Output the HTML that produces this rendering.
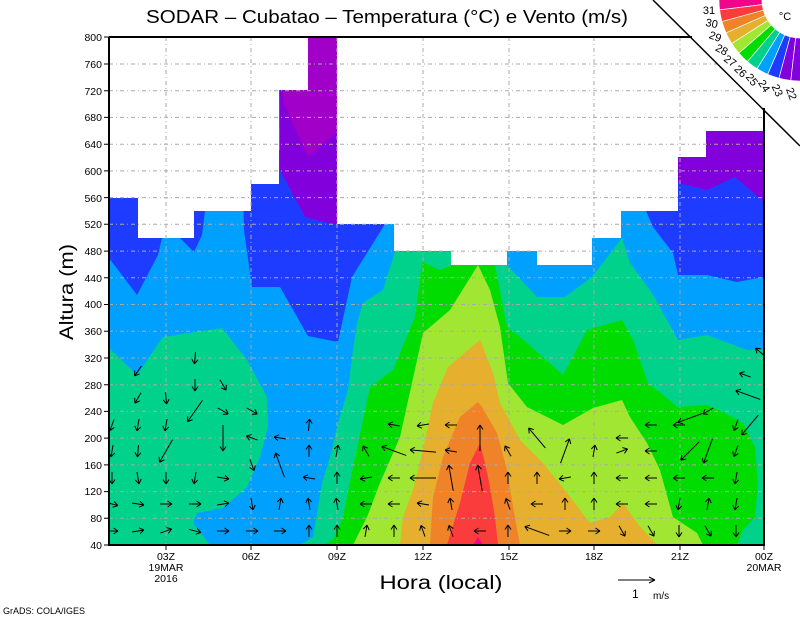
<!DOCTYPE html>
<html><head><meta charset="utf-8"><style>
html,body{margin:0;padding:0;background:#fff;}
svg{display:block;font-family:"Liberation Sans",sans-serif;}
</style></head><body>
<svg width="800" height="618" viewBox="0 0 800 618" xmlns="http://www.w3.org/2000/svg" xmlns:xlink="http://www.w3.org/1999/xlink">
<defs>
<clipPath id="pc"><rect x="109" y="37" width="655" height="508"/></clipPath>
<g id="a"><path d="M-6 0H6M6 0l-4.5-3M6 0l-4.5 3" stroke="#000" stroke-width="1" fill="none"/></g>
<g id="b"><path d="M-13 0H13M13 0l-4.5-3M13 0l-4.5 3" stroke="#000" stroke-width="1" fill="none"/></g>
</defs>
<g clip-path="url(#pc)">
<rect x="109" y="37" width="655" height="508" fill="#00a0ff"/>
<polygon fill="#1e3cff" points="109,150 162,150 162,238 158,255 137,295 109,258"/>
<polygon fill="#1e3cff" points="177,150 205,150 205,211 202,235 194,252 180,238 177,238"/>
<polygon fill="#1e3cff" points="242,150 385,150 385,224 352,277 338,342 308,336 280,287 252,287 244,230"/>
<polygon fill="#1e3cff" points="646,120 764,120 764,277 737,282 707,275 678,275 673,253 653,227 646,211"/>
<polygon fill="#8200dc" points="279,30 337,30 337,225 305,217 280,170"/>
<polygon fill="#a000c8" points="283,30 337,30 337,132 308,157 283,102"/>
<polygon fill="#8200dc" points="678,120 764,120 764,202 735,177 707,190 678,183"/>
<polygon fill="#00d28c" points="109,348 137,375 163,337 222,328 247,360 267,397 268,427 260,457 247,487 223,508 197,513 193,523 210,545 109,545"/>
<polygon fill="#00d28c" points="300,545 313,537 322,483 330,457 338,423 348,390 353,350 357,323 363,303 383,290 395,252 495,252 507,265 537,297 565,297 592,277 622,238 630,263 652,293 678,340 707,335 747,350 764,350 764,545"/>
<polygon fill="#00dc00" points="322,545 333,540 343,517 353,467 363,420 370,387 393,370 415,317 422,262 440,270 452,265 495,265 507,327 520,337 563,375 587,330 622,320 633,340 648,383 678,407 707,405 723,412 743,423 755,447 758,483 755,517 743,530 737,545"/>
<polygon fill="#a0e632" points="353,545 367,517 380,483 400,437 423,333 450,310 478,265 490,290 500,327 508,383 527,407 563,425 593,408 622,400 630,417 647,443 660,470 673,517 697,533 703,545"/>
<polygon fill="#e6af2d" points="400,545 403,517 413,490 423,450 433,403 448,367 480,340 493,373 500,403 520,440 543,463 567,493 590,523 610,517 623,503 637,523 657,545"/>
<polygon fill="#f08228" points="430,545 433,497 443,457 460,417 478,402 482,407 497,433 507,470 513,507 520,545"/>
<polygon fill="#fa3c3c" points="447,545 460,503 470,463 480,443 485,463 490,487 495,517 498,545"/>
<polygon fill="#f0068c" points="473,545 478,537 483,545"/>
<polygon fill="#fff" points="109,37 109,198 138,198 138,238 194,238 194,211 251,211 251,184 279,184 279,90 308,90 308,37 337,37 337,224 394,224 394,251 451,251 451,265 507,265 507,251 537,251 537,265 592,265 592,238 621,238 621,211 678,211 678,157 706,157 706,131 764,131 764,37"/>
<g stroke="#aaa" stroke-width="1" stroke-dasharray="4,3,1,3" fill="none">
<path d="M109 518.3H764M109 491.6H764M109 464.9H764M109 438.1H764M109 411.4H764M109 384.7H764M109 358H764M109 331.2H764M109 304.5H764M109 277.8H764M109 251.1H764M109 224.3H764M109 197.6H764M109 170.9H764M109 144.2H764M109 117.4H764M109 90.7H764M109 64H764"/>
<path d="M166 37V545M251 37V545M337 37V545M423 37V545M509 37V545M594 37V545M680 37V545"/>
</g>
<!-- arrows -->
<use xlink:href="#a" transform="translate(112,531) rotate(0)"/>
<use xlink:href="#a" transform="translate(112,504) rotate(15)"/>
<use xlink:href="#a" transform="translate(112,478) rotate(90)"/>
<use xlink:href="#a" transform="translate(112,451) rotate(100)"/>
<use xlink:href="#a" transform="translate(112,425) rotate(110)"/>
<use xlink:href="#a" transform="translate(138,531) rotate(-10)"/>
<use xlink:href="#a" transform="translate(138,504) rotate(10)"/>
<use xlink:href="#a" transform="translate(138,478) rotate(80)"/>
<use xlink:href="#a" transform="translate(138,451) rotate(95)"/>
<use xlink:href="#a" transform="translate(138,425) rotate(100)"/>
<use xlink:href="#a" transform="translate(138,398) rotate(120)"/>
<use xlink:href="#a" transform="translate(138,371) rotate(125)"/>
<use xlink:href="#a" transform="translate(166,531) rotate(-20)"/>
<use xlink:href="#a" transform="translate(166,504) rotate(0)"/>
<use xlink:href="#a" transform="translate(166,478) rotate(90)"/>
<use xlink:href="#b" transform="translate(166,451) rotate(120)"/>
<use xlink:href="#a" transform="translate(166,425) rotate(100)"/>
<use xlink:href="#a" transform="translate(166,398) rotate(85)"/>
<use xlink:href="#a" transform="translate(195,531) rotate(15)"/>
<use xlink:href="#a" transform="translate(195,504) rotate(0)"/>
<use xlink:href="#a" transform="translate(195,478) rotate(100)"/>
<use xlink:href="#b" transform="translate(195,411) rotate(125)"/>
<use xlink:href="#a" transform="translate(195,385) rotate(90)"/>
<use xlink:href="#a" transform="translate(195,358) rotate(95)"/>
<use xlink:href="#a" transform="translate(223,531) rotate(0)"/>
<use xlink:href="#a" transform="translate(223,504) rotate(-10)"/>
<use xlink:href="#a" transform="translate(223,478) rotate(10)"/>
<use xlink:href="#b" transform="translate(223,438) rotate(90)"/>
<use xlink:href="#a" transform="translate(223,411) rotate(30)"/>
<use xlink:href="#a" transform="translate(223,385) rotate(60)"/>
<use xlink:href="#a" transform="translate(252,531) rotate(0)"/>
<use xlink:href="#a" transform="translate(252,504) rotate(80)"/>
<use xlink:href="#a" transform="translate(252,465) rotate(70)"/>
<use xlink:href="#a" transform="translate(252,438) rotate(200)"/>
<use xlink:href="#a" transform="translate(252,411) rotate(30)"/>
<use xlink:href="#a" transform="translate(280,531) rotate(0)"/>
<use xlink:href="#a" transform="translate(280,504) rotate(-80)"/>
<use xlink:href="#b" transform="translate(280,465) rotate(-110)"/>
<use xlink:href="#a" transform="translate(280,438) rotate(190)"/>
<use xlink:href="#a" transform="translate(309,531) rotate(-90)"/>
<use xlink:href="#a" transform="translate(309,504) rotate(-100)"/>
<use xlink:href="#a" transform="translate(309,478) rotate(190)"/>
<use xlink:href="#a" transform="translate(309,451) rotate(-90)"/>
<use xlink:href="#a" transform="translate(309,425) rotate(-85)"/>
<use xlink:href="#a" transform="translate(337,531) rotate(-90)"/>
<use xlink:href="#a" transform="translate(337,504) rotate(-100)"/>
<use xlink:href="#a" transform="translate(337,478) rotate(-90)"/>
<use xlink:href="#a" transform="translate(337,451) rotate(-80)"/>
<use xlink:href="#a" transform="translate(366,531) rotate(-80)"/>
<use xlink:href="#a" transform="translate(366,504) rotate(180)"/>
<use xlink:href="#a" transform="translate(366,478) rotate(170)"/>
<use xlink:href="#a" transform="translate(366,451) rotate(-120)"/>
<use xlink:href="#a" transform="translate(394,531) rotate(-90)"/>
<use xlink:href="#a" transform="translate(394,504) rotate(180)"/>
<use xlink:href="#a" transform="translate(394,478) rotate(180)"/>
<use xlink:href="#b" transform="translate(394,451) rotate(200)"/>
<use xlink:href="#a" transform="translate(394,425) rotate(190)"/>
<use xlink:href="#a" transform="translate(423,531) rotate(-110)"/>
<use xlink:href="#a" transform="translate(423,504) rotate(190)"/>
<use xlink:href="#b" transform="translate(423,478) rotate(180)"/>
<use xlink:href="#b" transform="translate(423,451) rotate(185)"/>
<use xlink:href="#a" transform="translate(423,425) rotate(170)"/>
<use xlink:href="#a" transform="translate(451,531) rotate(-110)"/>
<use xlink:href="#a" transform="translate(451,504) rotate(-100)"/>
<use xlink:href="#b" transform="translate(451,478) rotate(-100)"/>
<use xlink:href="#a" transform="translate(451,451) rotate(190)"/>
<use xlink:href="#a" transform="translate(451,425) rotate(180)"/>
<use xlink:href="#a" transform="translate(480,531) rotate(180)"/>
<use xlink:href="#b" transform="translate(480,478) rotate(-100)"/>
<use xlink:href="#b" transform="translate(480,438) rotate(-90)"/>
<use xlink:href="#a" transform="translate(508,531) rotate(-90)"/>
<use xlink:href="#a" transform="translate(508,504) rotate(-110)"/>
<use xlink:href="#a" transform="translate(508,478) rotate(-90)"/>
<use xlink:href="#a" transform="translate(508,451) rotate(-120)"/>
<use xlink:href="#b" transform="translate(537,531) rotate(200)"/>
<use xlink:href="#a" transform="translate(537,504) rotate(180)"/>
<use xlink:href="#a" transform="translate(537,478) rotate(-90)"/>
<use xlink:href="#b" transform="translate(537,438) rotate(-130)"/>
<use xlink:href="#a" transform="translate(565,531) rotate(0)"/>
<use xlink:href="#a" transform="translate(565,504) rotate(-90)"/>
<use xlink:href="#a" transform="translate(565,478) rotate(170)"/>
<use xlink:href="#b" transform="translate(565,451) rotate(-70)"/>
<use xlink:href="#a" transform="translate(594,531) rotate(0)"/>
<use xlink:href="#a" transform="translate(594,504) rotate(-90)"/>
<use xlink:href="#a" transform="translate(594,478) rotate(-90)"/>
<use xlink:href="#a" transform="translate(594,451) rotate(-80)"/>
<use xlink:href="#a" transform="translate(622,531) rotate(60)"/>
<use xlink:href="#a" transform="translate(622,504) rotate(180)"/>
<use xlink:href="#a" transform="translate(622,478) rotate(180)"/>
<use xlink:href="#a" transform="translate(622,451) rotate(-20)"/>
<use xlink:href="#a" transform="translate(622,438) rotate(180)"/>
<use xlink:href="#a" transform="translate(651,531) rotate(60)"/>
<use xlink:href="#a" transform="translate(651,504) rotate(180)"/>
<use xlink:href="#a" transform="translate(651,478) rotate(180)"/>
<use xlink:href="#a" transform="translate(651,451) rotate(180)"/>
<use xlink:href="#a" transform="translate(651,425) rotate(180)"/>
<use xlink:href="#a" transform="translate(679,531) rotate(90)"/>
<use xlink:href="#a" transform="translate(679,504) rotate(100)"/>
<use xlink:href="#a" transform="translate(679,478) rotate(180)"/>
<use xlink:href="#b" transform="translate(690,451) rotate(135)"/>
<use xlink:href="#a" transform="translate(679,425) rotate(180)"/>
<use xlink:href="#b" transform="translate(690,418) rotate(160)"/>
<use xlink:href="#a" transform="translate(708,531) rotate(60)"/>
<use xlink:href="#a" transform="translate(708,504) rotate(-80)"/>
<use xlink:href="#a" transform="translate(708,478) rotate(180)"/>
<use xlink:href="#b" transform="translate(708,451) rotate(110)"/>
<use xlink:href="#a" transform="translate(708,411) rotate(150)"/>
<use xlink:href="#a" transform="translate(736,531) rotate(90)"/>
<use xlink:href="#a" transform="translate(736,504) rotate(100)"/>
<use xlink:href="#a" transform="translate(736,478) rotate(100)"/>
<use xlink:href="#a" transform="translate(736,451) rotate(110)"/>
<use xlink:href="#a" transform="translate(736,425) rotate(110)"/>
<use xlink:href="#b" transform="translate(750,425) rotate(130)"/>
<use xlink:href="#b" transform="translate(748,395) rotate(200)"/>
<use xlink:href="#a" transform="translate(745,375) rotate(200)"/>
<use xlink:href="#a" transform="translate(760,352) rotate(220)"/>
</g>
<polygon fill="#fff" points="655,0 800,0 800,145"/>
<line x1="653" y1="0" x2="800" y2="146" stroke="#000" stroke-width="1.5"/>
<g stroke="#000" stroke-width="2" fill="none">
<path d="M109 37V545H764V108"/>
<path d="M109 37H692"/>
</g>
<g stroke="#000" stroke-width="1">
<path d="M104 545H109M104 518.3H109M104 491.6H109M104 464.9H109M104 438.1H109M104 411.4H109M104 384.7H109M104 358H109M104 331.2H109M104 304.5H109M104 277.8H109M104 251.1H109M104 224.3H109M104 197.6H109M104 170.9H109M104 144.2H109M104 117.4H109M104 90.7H109M104 64H109M104 37H109"/>
<path d="M166 545V550M251 545V550M337 545V550M423 545V550M509 545V550M594 545V550M680 545V550M764 545V550"/>
</g>
<g font-size="10.5" text-anchor="end" fill="#000">
<text x="102" y="549">40</text><text x="102" y="522">80</text><text x="102" y="495">120</text><text x="102" y="469">160</text><text x="102" y="442">200</text><text x="102" y="415">240</text><text x="102" y="389">280</text><text x="102" y="362">320</text><text x="102" y="335">360</text><text x="102" y="308">400</text><text x="102" y="282">440</text><text x="102" y="255">480</text><text x="102" y="228">520</text><text x="102" y="202">560</text><text x="102" y="175">600</text><text x="102" y="148">640</text><text x="102" y="121">680</text><text x="102" y="95">720</text><text x="102" y="68">760</text><text x="102" y="41">800</text>
</g>
<g font-size="10.5" text-anchor="middle" fill="#000">
<text x="166" y="560">03Z</text><text x="166" y="571">19MAR</text><text x="166" y="582">2016</text>
<text x="251" y="560">06Z</text><text x="337" y="560">09Z</text><text x="423" y="560">12Z</text><text x="509" y="560">15Z</text><text x="594" y="560">18Z</text><text x="680" y="560">21Z</text>
<text x="764" y="560">00Z</text><text x="764" y="571">20MAR</text>
</g>
<text x="146" y="23" font-size="18" textLength="482" lengthAdjust="spacingAndGlyphs">SODAR – Cubatao – Temperatura (°C) e Vento (m/s)</text>
<text x="441" y="589" font-size="19" text-anchor="middle" textLength="123" lengthAdjust="spacingAndGlyphs">Hora (local)</text>
<text transform="translate(73,292) rotate(-90)" font-size="19" text-anchor="middle" textLength="96" lengthAdjust="spacingAndGlyphs">Altura (m)</text>
<text x="3" y="614" font-size="9">GrADS: COLA/IGES</text>
<g stroke="#000" stroke-width="1"><path d="M618 580H655M655 580L649 577M655 580L649 583"/></g>
<text x="632" y="598" font-size="12">1</text><text x="653" y="599" font-size="10">m/s</text>
<g stroke="#fff" stroke-width="0.7">
<path fill="#f0068c" d="M720.2,-14.1 A81 81 0 0 0 719.6,9.9 L762.3,4.6 A38 38 0 0 1 762.6,-6.6Z"/>
<path fill="#fa3c3c" d="M719.6,9.9 A81 81 0 0 0 721.9,21.6 L763.4,10.2 A38 38 0 0 1 762.3,4.6Z"/>
<path fill="#f08228" d="M721.9,21.6 A81 81 0 0 0 726.0,32.9 L765.3,15.5 A38 38 0 0 1 763.4,10.2Z"/>
<path fill="#e6af2d" d="M726.0,32.9 A81 81 0 0 0 731.7,43.5 L768.0,20.4 A38 38 0 0 1 765.3,15.5Z"/>
<path fill="#a0e632" d="M731.7,43.5 A81 81 0 0 0 738.9,53.1 L771.3,24.9 A38 38 0 0 1 768.0,20.4Z"/>
<path fill="#00dc00" d="M738.9,53.1 A81 81 0 0 0 747.4,61.6 L775.3,28.9 A38 38 0 0 1 771.3,24.9Z"/>
<path fill="#00d28c" d="M747.4,61.6 A81 81 0 0 0 757.1,68.7 L779.9,32.2 A38 38 0 0 1 775.3,28.9Z"/>
<path fill="#00a0ff" d="M757.1,68.7 A81 81 0 0 0 767.7,74.3 L784.8,34.9 A38 38 0 0 1 779.9,32.2Z"/>
<path fill="#1e3cff" d="M767.7,74.3 A81 81 0 0 0 779.0,78.2 L790.2,36.7 A38 38 0 0 1 784.8,34.9Z"/>
<path fill="#8200dc" d="M779.0,78.2 A81 81 0 0 0 790.8,80.5 L795.7,37.8 A38 38 0 0 1 790.2,36.7Z"/>
<path fill="#8200dc" d="M790.8,80.5 A81 81 0 0 0 802.8,81.0 L801.3,38.0 A38 38 0 0 1 795.7,37.8Z"/>
</g>
<g font-size="11" fill="#000" text-anchor="middle">
<text transform="translate(709,14)">31</text>
<text transform="translate(711,27) rotate(12)">30</text>
<text transform="translate(714,40) rotate(20)">29</text>
<text transform="translate(720,53) rotate(28)">28</text>
<text transform="translate(728,64) rotate(36)">27</text>
<text transform="translate(738,74) rotate(44)">26</text>
<text transform="translate(749,82) rotate(52)">25</text>
<text transform="translate(761,88) rotate(58)">24</text>
<text transform="translate(774,92) rotate(64)">23</text>
<text transform="translate(788,95) rotate(70)">22</text>
<text x="785" y="20" font-size="11">°C</text>
</g>
</svg>
</body></html>
